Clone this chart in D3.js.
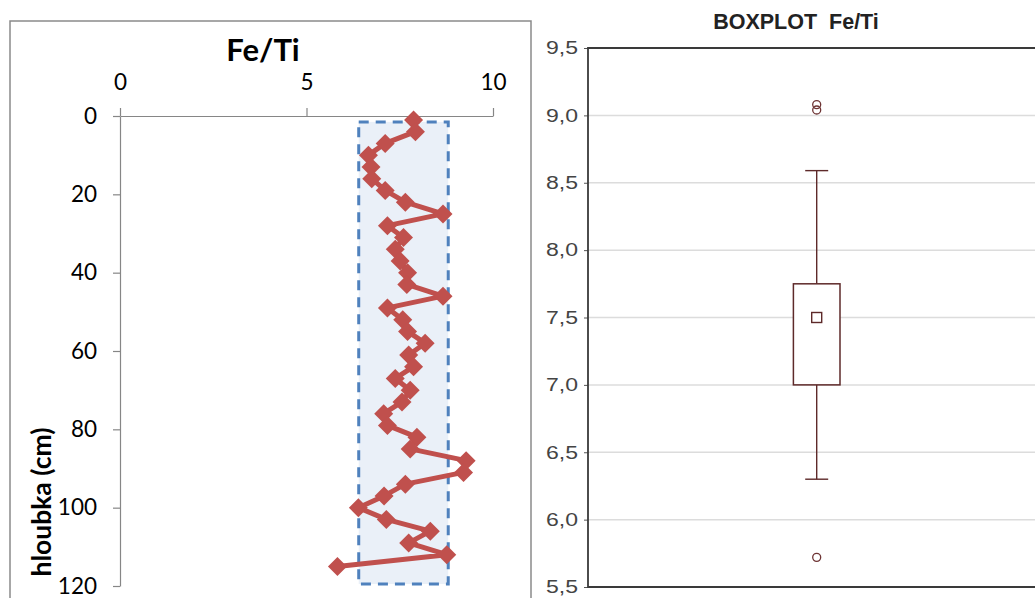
<!DOCTYPE html>
<html><head><meta charset="utf-8">
<script src="https://cdn.jsdelivr.net/npm/d3@7"></script>
<style>
html,body{margin:0;padding:0;background:#fff;}
svg{display:block;}
</style></head>
<body>
<svg id="c" width="1035" height="598"></svg>
<script>
// ---- data ----
const depths = [1,4,7,10,13,16,19,22,25,28,31,34,37,40,43,46,49,52,55,58,61,64,67,70,73,76,79,82,85,88,91,94,97,100,103,106,109,112,115];
const feTi   = [7.87,7.92,7.11,6.66,6.73,6.75,7.11,7.65,8.66,7.17,7.60,7.38,7.51,7.71,7.69,8.66,7.17,7.58,7.71,8.18,7.74,7.87,7.38,7.78,7.56,7.07,7.17,7.96,7.78,9.28,9.21,7.65,7.08,6.39,7.14,8.32,7.74,8.76,5.83];
const xTicks = [0,5,10];
const yTicks = [0,20,40,60,80,100,120];
const bandValues = [6.4, 8.8];
const bandDepths = [1.5, 119.5];

const boxTicks = [5.5,6.0,6.5,7.0,7.5,8.0,8.5,9.0,9.5];
const boxQ = [7.0, 7.75];
const boxCenter = 7.5;
const boxWhiskers = [6.3, 8.59];
const boxOutliers = [9.08, 9.04, 5.72];

const svg = d3.select("#c");
const fmtComma = d => d.toFixed(1).replace(".", ",");

// ---- left chart ----
const leftFont = "Lato, 'Open Sans', sans-serif";
svg.append("path").attr("d","M10,600 L10,21 L531,21 L531,600")
  .attr("fill","none").attr("stroke","#8a8a8a").attr("stroke-width",1.5);

const x = d3.scaleLinear().domain([0,10]).range([120,493]);
const y = d3.scaleLinear().domain([0,120]).range([116,586]);

svg.append("text").attr("x",263).attr("y",61).attr("text-anchor","middle")
  .attr("font-family",leftFont).attr("font-weight","bold").attr("font-size",31)
  .attr("fill","#000").text("Fe/Ti");

const gx = svg.append("g").attr("transform","translate(0,116)")
  .call(d3.axisTop(x).tickValues(xTicks).tickSize(8).tickSizeOuter(0).tickPadding(18));
const gy = svg.append("g").attr("transform","translate(120,0)")
  .call(d3.axisLeft(y).tickValues(yTicks).tickSize(7).tickSizeOuter(0).tickPadding(16));
[gx,gy].forEach(g=>{
  g.selectAll("path,line").attr("stroke","#868686").attr("stroke-width",1.2);
  g.selectAll("text").attr("font-family",leftFont).attr("font-size",22.5).attr("fill","#000");
});

svg.append("text").attr("transform","translate(51,502) rotate(-90)")
  .attr("text-anchor","middle").attr("font-family",leftFont).attr("font-weight","bold")
  .attr("font-size",26.5).attr("fill","#000").text("hloubka (cm)");

// band rectangle
svg.append("rect").attr("x",x(bandValues[0])).attr("y",y(bandDepths[0]))
  .attr("width",x(bandValues[1])-x(bandValues[0])).attr("height",y(bandDepths[1])-y(bandDepths[0]))
  .attr("fill","#eaf0f8").attr("stroke","#4f81bd").attr("stroke-width",3)
  .attr("stroke-dasharray","10,7");

const pts = depths.map((d,i)=>({d, v: feTi[i]}));
svg.append("path").datum(pts)
  .attr("d", d3.line().x(p=>x(p.v)).y(p=>y(p.d)))
  .attr("fill","none").attr("stroke","#c0504d").attr("stroke-width",5).attr("stroke-linejoin","round");
svg.append("g").selectAll("path").data(pts).join("path")
  .attr("transform",p=>`translate(${x(p.v)},${y(p.d)})`)
  .attr("d","M0,-9.5L9.5,0L0,9.5L-9.5,0Z").attr("fill","#c0504d");

// ---- right chart ----
const rFont = "'Liberation Sans', Arial, sans-serif";
const yr = d3.scaleLinear().domain([5.5,9.5]).range([587,48]);
const xL = 588, xR = 1040, cx = 816.7;

svg.append("text").attr("x",796).attr("y",29).attr("text-anchor","middle")
  .attr("font-family",rFont).attr("font-weight","bold").attr("font-size",21.5)
  .attr("fill","#222").attr("xml:space","preserve").text("BOXPLOT  Fe/Ti");

svg.append("g").selectAll("line").data(boxTicks.filter(t=>t>5.5 && t<9.5)).join("line")
  .attr("x1",xL).attr("x2",xR).attr("y1",d=>yr(d)).attr("y2",d=>yr(d))
  .attr("stroke","#dcdcdc").attr("stroke-width",1.5);

const gr = svg.append("g").attr("transform",`translate(${xL},0)`)
  .call(d3.axisLeft(yr).tickValues(boxTicks).tickFormat(fmtComma).tickSize(4).tickSizeOuter(0).tickPadding(6));
gr.select(".domain").remove();
gr.selectAll("line").attr("stroke","#555");
gr.selectAll("text").attr("font-family",rFont).attr("font-size",18).attr("fill","#444")
  .attr("textLength",32).attr("lengthAdjust","spacingAndGlyphs");

svg.append("path").attr("d",`M${xR},${yr(9.5)} L${xL},${yr(9.5)} L${xL},${yr(5.5)} L${xR},${yr(5.5)}`)
  .attr("fill","none").attr("stroke","#3a3a3a").attr("stroke-width",1.8);

const bc = "#5e2a2a";
// whiskers
svg.append("line").attr("x1",cx).attr("x2",cx).attr("y1",yr(boxWhiskers[1])).attr("y2",yr(boxQ[1]))
  .attr("stroke",bc).attr("stroke-width",1.4);
svg.append("line").attr("x1",cx).attr("x2",cx).attr("y1",yr(boxQ[0])).attr("y2",yr(boxWhiskers[0]))
  .attr("stroke",bc).attr("stroke-width",1.4);
svg.append("g").selectAll("line").data(boxWhiskers).join("line")
  .attr("x1",cx-11.5).attr("x2",cx+11.5).attr("y1",d=>yr(d)).attr("y2",d=>yr(d))
  .attr("stroke",bc).attr("stroke-width",1.4);
// box
svg.append("rect").attr("x",cx-23.3).attr("width",46.6)
  .attr("y",yr(boxQ[1])).attr("height",yr(boxQ[0])-yr(boxQ[1]))
  .attr("fill","#fff").attr("stroke",bc).attr("stroke-width",1.5);
svg.append("rect").attr("x",cx-5).attr("y",yr(boxCenter)-5).attr("width",10).attr("height",10)
  .attr("fill","#fff").attr("stroke",bc).attr("stroke-width",1.4);
// outliers
svg.append("g").selectAll("circle").data(boxOutliers).join("circle")
  .attr("cx",cx).attr("cy",d=>yr(d)).attr("r",4)
  .attr("fill","none").attr("stroke","#6e3434").attr("stroke-width",1.3);
</script>
</body></html>
